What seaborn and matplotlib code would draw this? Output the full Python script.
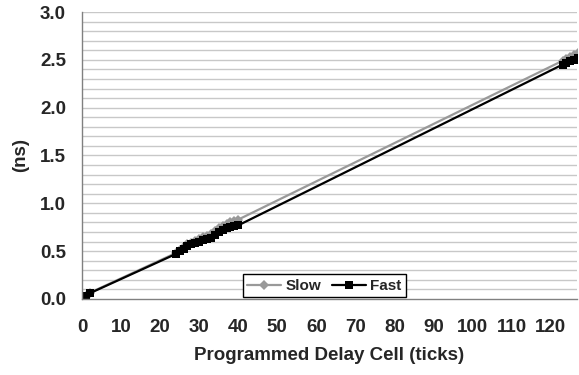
import matplotlib
matplotlib.use("Agg")
import matplotlib.pyplot as plt
import seaborn as sns
import pandas as pd
import numpy as np

# Delay cell settings (ticks)
ticks = [0, 1, 2,
         24, 25, 26, 27, 28, 29, 30, 31, 32, 33, 34, 35, 36, 37, 38, 39, 40,
         123, 124, 125, 126, 127]

# Measured delays (ns)
slow = [0.00, 0.03, 0.065,
        0.48, 0.51, 0.54, 0.57, 0.59, 0.61, 0.63, 0.65, 0.66, 0.68, 0.71, 0.74, 0.76, 0.78, 0.80, 0.82, 0.83,
        2.49, 2.51, 2.53, 2.55, 2.57]
fast = [0.00, 0.03, 0.06,
        0.47, 0.50, 0.52, 0.55, 0.57, 0.59, 0.60, 0.62, 0.63, 0.64, 0.67, 0.70, 0.72, 0.74, 0.75, 0.76, 0.77,
        2.45, 2.47, 2.49, 2.50, 2.52]

df = pd.DataFrame({
    'Ticks': ticks * 2,
    'Delay': slow + fast,
    'Corner': ['Slow'] * len(ticks) + ['Fast'] * len(ticks),
})

sns.set_style('white')
plt.rcParams['font.family'] = ['Liberation Sans', 'DejaVu Sans']
plt.rcParams['font.weight'] = 'bold'

fig = plt.figure(figsize=(5.79, 3.75), dpi=100)
ax = fig.add_axes([0.1416, 0.2027, 0.8549, 0.7653])

sns.lineplot(data=df, x='Ticks', y='Delay', hue='Corner', style='Corner',
             palette={'Slow': '#999999', 'Fast': 'black'},
             markers={'Slow': 'D', 'Fast': 's'}, dashes=False,
             markersize=5.5, markeredgewidth=0, linewidth=1.6,
             ax=ax, clip_on=True)

# horizontal grid every 0.1
for yv in np.arange(0.1, 3.01, 0.1):
    ax.axhline(yv, color='#c8c8c8', linewidth=1.0, zorder=0)

ax.set_xlim(0, 126.7)
ax.set_ylim(0, 3.0)
ax.set_xticks(range(0, 121, 10))
ax.set_yticks(np.arange(0, 3.01, 0.5))
ax.set_yticklabels([f'{v:.1f}' for v in np.arange(0, 3.01, 0.5)])

for s in ['top', 'right']:
    ax.spines[s].set_visible(False)
for s in ['left', 'bottom']:
    ax.spines[s].set_color('#808080')
    ax.spines[s].set_linewidth(1.0)

ax.tick_params(axis='both', direction='out', length=4.5, width=1, color='black',
               labelsize=13.5)
ax.tick_params(axis='x', pad=10)
ax.tick_params(axis='y', pad=7)
for lab in ax.get_xticklabels() + ax.get_yticklabels():
    lab.set_fontweight('bold')

ax.set_xlabel('Programmed Delay Cell (ticks)', fontsize=13.5, fontweight='bold', labelpad=8)
ax.set_ylabel('(ns)', fontsize=13.5, fontweight='bold', labelpad=8)

leg = ax.legend(loc='lower center', bbox_to_anchor=(0.49, 0.0), ncol=2,
                frameon=True, fancybox=False, edgecolor='black', fontsize=11,
                handlelength=2.2, columnspacing=0.7, handletextpad=0.3,
                borderpad=0.3, borderaxespad=0.1)
leg.get_frame().set_linewidth(1.0)
leg.get_frame().set_alpha(1)
for t in leg.get_texts():
    t.set_fontweight('bold')

fig.savefig('out.png', dpi=100)
